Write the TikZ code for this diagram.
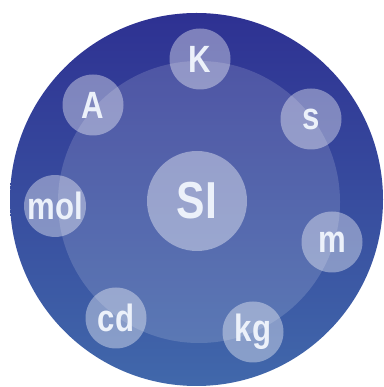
\documentclass[tikz,border=0pt]{standalone}
\usepackage{fontspec}
\setmainfont[FakeStretch=0.82]{Liberation Sans}
\definecolor{outertop}{HTML}{2E3192}
\definecolor{outerbot}{HTML}{4168AB}
\definecolor{labeltext}{HTML}{ECF1FA}
\tikzset{
  unit/.style={circle, fill=white, fill opacity=0.38, text opacity=1,
    text=labeltext, minimum size=61pt, inner sep=0pt,
    font=\bfseries\fontsize{38}{38}\selectfont},
  core/.style={unit, minimum size=100pt, fill opacity=0.4,
    font=\bfseries\fontsize{52}{52}\selectfont}
}
\begin{document}
\begin{tikzpicture}[x=1pt,y=1pt]
\useasboundingbox (0,0) rectangle (383,387);
\shade[top color=outertop, bottom color=outerbot] (196.5,187.5) circle[radius=186.5];
\fill[white, opacity=0.15] (199,185) circle[radius=141];
\node[core] (si) at (197,186) {SI};
\node[unit] (k) at (200,328) {K};
\node[unit] (a) at (93,282) {A};
\node[unit] (s) at (311,268) {s};
\node[unit] (mol) at (55,181) {mol};
\node[unit] (m) at (332,145) {m};
\node[unit] (cd) at (116,69) {cd};
\node[unit] (kg) at (253,55) {kg};
\end{tikzpicture}
\end{document}
